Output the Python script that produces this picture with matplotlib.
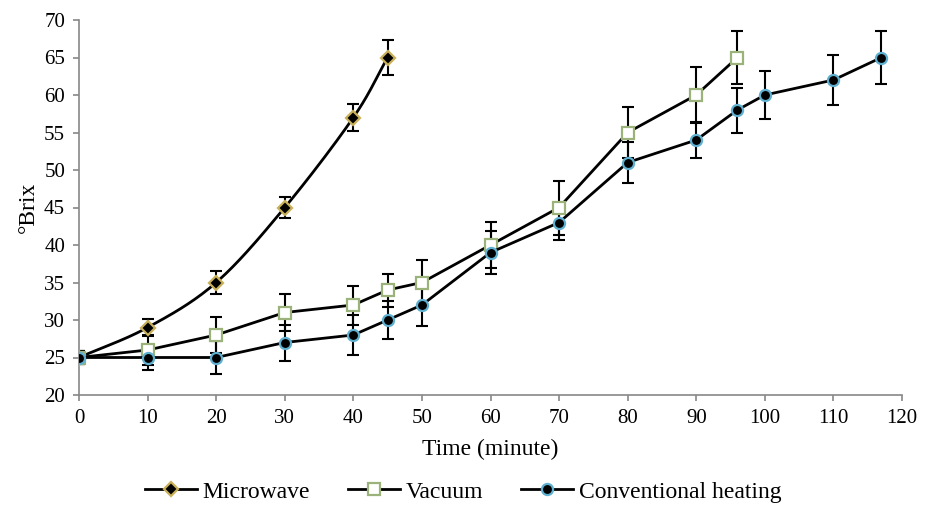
import numpy as np
import matplotlib.pyplot as plt
from matplotlib.lines import Line2D

plt.rcParams['font.family'] = ['Liberation Serif', 'DejaVu Serif']

mw_t = [0, 10, 20, 30, 40, 45]
mw_v = [25, 29, 35, 45, 57, 65]
mw_e = [0.9, 1.1, 1.5, 1.4, 1.75, 2.3]

vac_t = [0, 10, 20, 30, 40, 45, 50, 60, 70, 80, 90, 96]
vac_v = [25, 26, 28, 31, 32, 34, 35, 40, 45, 55, 60, 65]
vac_e = [0.9, 2.0, 2.4, 2.5, 2.6, 2.2, 3.0, 3.1, 3.6, 3.4, 3.7, 3.5]

con_t = [0, 10, 20, 30, 40, 45, 50, 60, 70, 80, 90, 96, 100, 110, 117]
con_v = [25, 25, 25, 27, 28, 30, 32, 39, 43, 51, 54, 58, 60, 62, 65]
con_e = [0.9, 1.7, 2.2, 2.4, 2.7, 2.5, 2.8, 2.9, 2.3, 2.7, 2.4, 3.0, 3.2, 3.3, 3.5]


def smooth(x, y, n=30):
    # catmull-rom curve like Excel's smoothed line
    x = np.asarray(x, float)
    y = np.asarray(y, float)
    px = np.concatenate([[2 * x[0] - x[1]], x, [2 * x[-1] - x[-2]]])
    py = np.concatenate([[2 * y[0] - y[1]], y, [2 * y[-1] - y[-2]]])
    xs, ys = [], []
    t = np.linspace(0, 1, n)
    for i in range(1, len(px) - 2):
        for p, out in ((px, xs), (py, ys)):
            p0, p1, p2, p3 = p[i - 1], p[i], p[i + 1], p[i + 2]
            out.extend(0.5 * ((2 * p1) + (-p0 + p2) * t
                              + (2 * p0 - 5 * p1 + 4 * p2 - p3) * t ** 2
                              + (-p0 + 3 * p1 - 3 * p2 + p3) * t ** 3))
    return xs, ys


fig = plt.figure(figsize=(9.3, 5.13), dpi=100)
ax = fig.add_axes([79 / 930, 1 - 395 / 513, 823 / 930, 375 / 513])

eb = dict(fmt='none', ecolor='black', elinewidth=1.5, capsize=4, capthick=1.5, zorder=2)
ax.errorbar(con_t, con_v, yerr=con_e, **eb)
ax.errorbar(vac_t, vac_v, yerr=vac_e, **eb)
ax.errorbar(mw_t, mw_v, yerr=mw_e, **eb)

sx, sy = smooth(mw_t, mw_v)
ax.plot(sx, sy, color='black', lw=2, zorder=3)
ax.plot(mw_t, mw_v, ls='none', marker='D', ms=7, mfc='black', mec='#c9b15a', mew=1.6, zorder=4)
ax.plot(vac_t, vac_v, color='black', lw=2, marker='s', ms=8, mfc='white', mec='#9bb37a', mew=1.6, zorder=4)
ax.plot(con_t, con_v, color='black', lw=2, marker='o', ms=8, mfc='black', mec='#5fb0d0', mew=1.6, zorder=5)

ax.set_xlim(0, 120)
ax.set_ylim(20, 70)
ax.set_xticks(range(0, 121, 10))
ax.set_yticks(range(20, 71, 5))
for s in ['top', 'right']:
    ax.spines[s].set_visible(False)
for s in ['left', 'bottom']:
    ax.spines[s].set_color('#888888')
    ax.spines[s].set_linewidth(1.2)
ax.tick_params(direction='out', color='#888888', length=4, width=1.2, labelsize=15, pad=6)
ax.set_xlabel('Time (minute)', fontsize=17, labelpad=8)
ax.set_ylabel('°Brix', fontsize=17, labelpad=4)

handles = [
    Line2D([], [], color='black', lw=2, marker='D', ms=7, mfc='black', mec='#c9b15a', mew=1.6),
    Line2D([], [], color='black', lw=2, marker='s', ms=8, mfc='white', mec='#9bb37a', mew=1.6),
    Line2D([], [], color='black', lw=2, marker='o', ms=8, mfc='black', mec='#5fb0d0', mew=1.6),
]
fig.legend(handles, ['Microwave', 'Vacuum', 'Conventional heating'], loc='center',
           bbox_to_anchor=(463 / 930, 1 - 492 / 513), ncol=3, frameon=False, fontsize=17,
           handlelength=2.2, handletextpad=0.25, columnspacing=1.6)

fig.savefig('out.png', dpi=100)
